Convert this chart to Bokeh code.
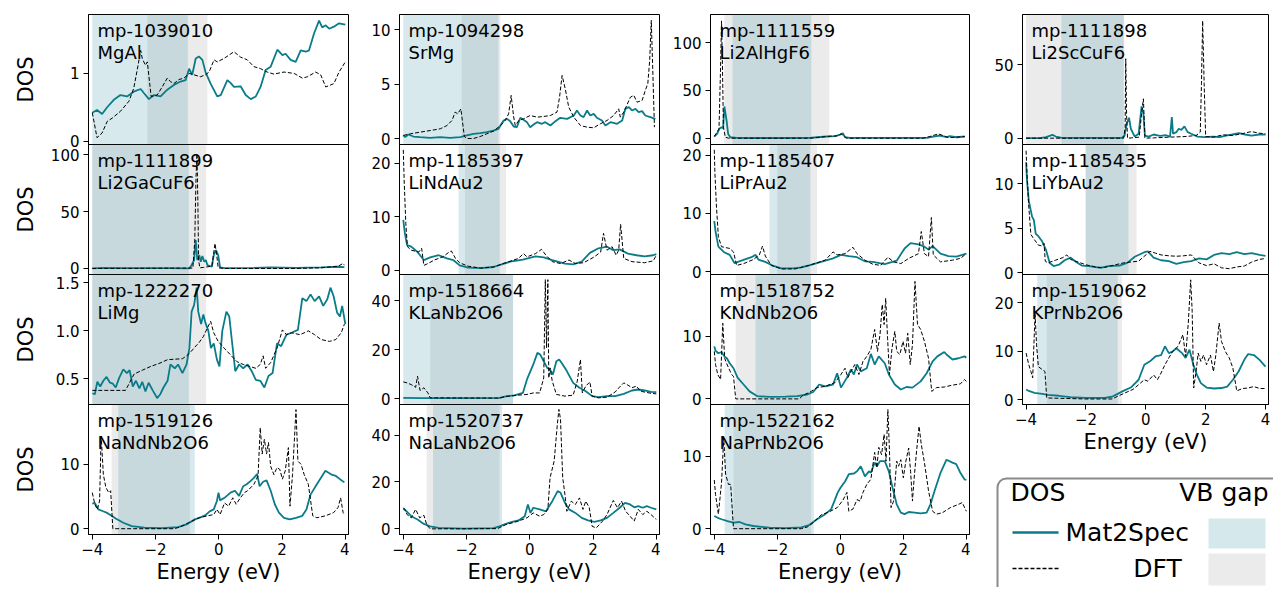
from bokeh.plotting import figure
from bokeh.layouts import row, column
from bokeh.models import Range1d, FixedTicker, BoxAnnotation, Label
from bokeh.embed import file_html
from bokeh.resources import INLINE

FONT = "DejaVu Sans"
TEAL = "#0a7c89"

IDS = ["mp-1039010", "mp-1094298", "mp-1111559", "mp-1111898",
       "mp-1111899", "mp-1185397", "mp-1185407", "mp-1185435",
       "mp-1222270", "mp-1518664", "mp-1518752", "mp-1519062",
       "mp-1519126", "mp-1520737", "mp-1522162"]
FORMULAS = ["MgAl", "SrMg", "Li2AlHgF6", "Li2ScCuF6",
            "Li2GaCuF6", "LiNdAu2", "LiPrAu2", "LiYbAu2",
            "LiMg", "KLaNb2O6", "KNdNb2O6", "KPrNb2O6",
            "NaNdNb2O6", "NaLaNb2O6", "NaPrNb2O6"]

M2S_GAP_LO = [-4.0, -4.0, -3.42, -2.82, -4.0, -2.25, -2.25, -2.01, -4.0, -4.0, -2.69, -3.63, -3.18, -3.06, -3.67]
M2S_GAP_HI = [-0.98, -0.99, -0.92, -0.74, -0.95, -0.95, -0.95, -0.58, -0.95, -0.53, -0.93, -0.94, -0.76, -0.88, -0.84]
DFT_GAP_LO = [-2.26, -2.15, -3.68, -4.0, -4.0, -2.05, -2.0, -2.01, -4.0, -3.15, -3.32, -3.31, -3.39, -3.26, -3.39]
DFT_GAP_HI = [-0.36, -0.93, -0.35, -0.72, -0.40, -0.75, -0.74, -0.31, -0.40, -0.53, -0.93, -0.80, -0.915, -0.96, -0.93]

Y_MIN = [-0.05, -0.52, -6.6, -4.3, -5.3, -0.8, -0.46, -0.2, 0.233, -2.3, -0.9, -1.0, -0.9, -2.4, -0.8]
Y_MAX = [1.87, 11.4, 129.4, 84.1, 109.0, 23.5, 21.8, 14.4, 1.587, 50.6, 19.9, 25.8, 19.3, 53.0, 17.1]
Y_TICKS = [[0, 1], [0, 5, 10], [0, 50, 100], [0, 50], [0, 50, 100], [0, 10, 20], [0, 10, 20], [0, 5, 10],
           [0.5, 1.0, 1.5], [0, 20, 40], [0, 10], [0, 10, 20], [0, 10], [0, 20, 40], [0, 10]]
X_TICKS = [-4, -2, 0, 2, 4]
X_TICK_LABELS = ["\u22124", "\u22122", "0", "2", "4"]

# ---------------- panel 1: MgAl
P01_M2S_E = [-4.00, -3.85, -3.69, -3.53, -3.32, -3.11, -2.90, -2.69, -2.47, -2.37, -2.21, -2.05, -1.84, -1.63, -1.42, -1.21, -1.05, -0.94, -0.84, -0.73, -0.63, -0.52, -0.42, -0.26, -0.05, 0.06, 0.27, 0.37, 0.48, 0.69, 0.85, 1.01, 1.17, 1.32, 1.48, 1.64, 1.85, 2.01, 2.11, 2.27, 2.43, 2.59, 2.75, 2.85, 3.01, 3.17, 3.27, 3.38, 3.49, 3.64, 3.80, 4.00]
P01_M2S = [0.42, 0.46, 0.40, 0.50, 0.61, 0.68, 0.66, 0.73, 0.77, 0.71, 0.62, 0.68, 0.66, 0.76, 0.83, 0.88, 0.90, 1.07, 0.98, 1.22, 1.25, 1.20, 1.02, 0.85, 0.66, 0.68, 0.90, 0.86, 0.80, 0.81, 0.68, 0.62, 0.66, 0.80, 1.05, 1.10, 1.35, 1.27, 1.29, 1.20, 1.17, 1.34, 1.32, 1.34, 1.59, 1.78, 1.68, 1.71, 1.66, 1.69, 1.74, 1.72]
P01_DFT_E = [-4.00, -3.85, -3.69, -3.53, -3.37, -3.11, -2.84, -2.69, -2.58, -2.47, -2.42, -2.32, -2.26, -2.14, -1.95, -1.79, -1.63, -1.53, -1.42, -1.26, -1.10, -0.94, -0.79, -0.58, -0.42, -0.31, -0.15, -0.05, 0.16, 0.48, 0.69, 0.90, 1.11, 1.32, 1.53, 1.74, 2.06, 2.38, 2.64, 2.80, 3.06, 3.22, 3.38, 3.54, 3.64, 3.80, 4.00]
P01_DFT = [0.42, 0.05, 0.12, 0.29, 0.34, 0.44, 0.59, 0.78, 1.05, 1.34, 1.22, 1.12, 1.17, 0.66, 0.68, 0.80, 0.93, 0.88, 0.85, 0.91, 0.93, 1.00, 0.98, 0.95, 0.98, 1.02, 1.20, 1.17, 1.22, 1.32, 1.24, 1.20, 1.10, 1.07, 1.02, 0.99, 1.02, 1.00, 0.93, 0.95, 1.02, 0.98, 0.80, 0.83, 0.85, 1.02, 1.17]

# ---------------- panel 2: SrMg
P02_M2S_E = [-4.00, -3.94, -3.84, -3.68, -3.47, -3.15, -2.83, -2.52, -2.20, -1.99, -1.78, -1.57, -1.36, -1.15, -0.99, -0.83, -0.72, -0.62, -0.51, -0.41, -0.30, -0.20, -0.09, 0.01, 0.12, 0.23, 0.38, 0.49, 0.65, 0.81, 0.96, 1.18, 1.39, 1.49, 1.60, 1.70, 1.81, 1.91, 2.02, 2.12, 2.28, 2.39, 2.55, 2.76, 2.92, 3.02, 3.13, 3.23, 3.34, 3.44, 3.55, 3.65, 3.81, 3.97]
P02_M2S = [0.31, 0.15, 0.40, 0.21, 0.15, 0.09, 0.15, 0.09, 0.15, 0.31, 0.46, 0.52, 0.61, 0.76, 0.92, 1.68, 1.83, 1.62, 1.13, 1.07, 1.93, 1.74, 1.53, 1.07, 1.31, 1.53, 1.38, 1.53, 1.22, 1.62, 1.93, 1.83, 2.14, 2.60, 2.14, 1.99, 2.60, 2.14, 2.29, 1.93, 1.68, 1.22, 1.53, 1.38, 1.68, 2.75, 2.91, 2.60, 2.75, 2.45, 2.54, 2.14, 1.99, 1.83]
P02_DFT_E = [-4.00, -3.78, -3.47, -3.15, -2.83, -2.62, -2.46, -2.36, -2.28, -2.18, -2.07, -1.99, -1.78, -1.57, -1.36, -1.15, -0.93, -0.78, -0.67, -0.59, -0.51, -0.46, -0.35, -0.20, 0.01, 0.23, 0.44, 0.65, 0.86, 0.94, 1.02, 1.12, 1.23, 1.39, 1.60, 1.81, 2.02, 2.23, 2.44, 2.65, 2.81, 2.86, 2.97, 3.18, 3.29, 3.39, 3.55, 3.65, 3.73, 3.79, 3.84, 3.90, 3.94]
P02_DFT = [0.31, 0.46, 0.61, 0.76, 0.92, 1.22, 1.68, 2.45, 2.29, 2.75, 0.21, 0.03, 0.03, 0.21, 0.46, 0.70, 1.22, 1.68, 2.29, 3.98, 1.99, 1.22, 1.68, 1.83, 2.14, 1.99, 2.05, 2.14, 2.45, 3.82, 5.81, 4.59, 2.91, 1.99, 1.22, 1.07, 1.01, 1.38, 1.68, 2.14, 2.75, 1.99, 2.45, 3.82, 3.98, 3.36, 3.52, 4.43, 5.05, 7.19, 10.86, 5.05, 1.07]

# ---------------- panel 3: Li2AlHgF6
P03_M2S_E = [-4.00, -3.91, -3.84, -3.77, -3.72, -3.68, -3.61, -3.56, -3.49, -3.28, -2.85, -1.80, -0.96, -0.74, -0.43, -0.16, 0.00, 0.08, 0.15, 0.31, 1.37, 2.74, 2.95, 3.16, 3.37, 3.47, 3.69, 3.95]
P03_M2S = [1.75, 4.5, 9.8, 11.5, 10.5, 33.2, 18.5, 4.5, 1.0, 0.35, 0.2, 0.2, 0.35, 1.0, 1.75, 2.1, 3.8, 5.2, 1.0, 0.35, 0.3, 0.35, 1.75, 2.8, 1.0, 2.1, 1.0, 1.75]
P03_DFT_E = [-4.00, -3.85, -3.80, -3.77, -3.74, -3.71, -3.65, -3.54, -0.96, -0.74, -0.32, -0.11, 0.02, 0.10, 0.20, 2.63, 2.84, 3.11, 3.26, 3.42, 3.58, 3.79, 3.95]
P03_DFT = [1.75, 9.8, 74.5, 122.7, 74.5, 11.5, 1.0, 0.0, 0.0, 0.7, 2.1, 2.4, 4.5, 2.8, 0.0, 0.0, 1.75, 4.5, 2.8, 0.7, 0.7, 1.4, 1.75]

# ---------------- panel 4: Li2ScCuF6
P04_M2S_E = [-4.00, -3.54, -3.33, -3.12, -3.01, -2.80, -0.80, -0.71, -0.64, -0.56, -0.50, -0.37, -0.24, -0.14, -0.08, -0.03, 0.10, 0.26, 0.47, 0.68, 0.81, 0.87, 0.91, 1.02, 1.10, 1.19, 1.29, 1.40, 1.52, 1.73, 1.95, 2.26, 2.47, 2.68, 2.89, 3.11, 3.32, 3.53, 3.79, 4.00]
P04_M2S = [0.0, 0.0, 0.7, 2.3, 1.1, 0.2, 0.2, 1.8, 9.8, 13.9, 6.4, 1.1, 3.0, 21.6, 16.6, 1.8, 1.1, 2.5, 1.6, 2.0, 1.1, 14.3, 3.0, 4.1, 6.4, 5.7, 8.0, 4.1, 3.0, 1.1, 0.7, 1.1, 0.7, 1.8, 2.5, 3.4, 2.5, 1.8, 2.5, 2.4]
P04_DFT_E = [-4.00, -0.74, -0.69, -0.67, -0.64, -0.61, -0.48, -0.22, -0.13, -0.08, -0.03, 0.26, 0.79, 1.31, 1.68, 1.82, 1.86, 1.90, 1.95, 2.00, 2.26, 2.58, 2.89, 3.21, 3.53, 3.79, 4.00]
P04_DFT = [0.0, 0.0, 7.5, 54.0, 14.3, 0.0, 0.2, 0.7, 18.9, 26.8, 0.0, 0.2, 0.7, 1.1, 1.8, 4.1, 37.0, 79.8, 37.0, 1.1, 0.7, 2.3, 1.8, 3.0, 4.5, 3.4, 3.0]

# ---------------- panel 5: Li2GaCuF6
P05_M2S_E = [-4.00, -3.68, -2.88, -1.55, -0.95, -0.89, -0.78, -0.73, -0.68, -0.62, -0.57, -0.52, -0.46, -0.41, -0.36, -0.22, -0.16, -0.09, -0.02, 0.04, 0.18, 1.11, 1.64, 2.44, 3.23, 3.77, 3.97]
P05_M2S = [0.0, 0.6, 0.3, 0.3, 0.0, 1.5, 7.4, 25.0, 7.4, 11.8, 5.9, 10.9, 5.9, 7.4, 2.9, 1.5, 11.8, 16.2, 11.8, 0.9, 0.3, 0.6, 0.9, 0.6, 0.9, 1.5, 1.2]
P05_DFT_E = [-4.00, -0.82, -0.76, -0.72, -0.69, -0.66, -0.64, -0.60, -0.49, -0.22, -0.12, -0.06, -0.02, 0.18, 2.44, 3.23, 3.77, 3.93, 3.97]
P05_DFT = [0.0, 0.3, 25.0, 81.0, 101.0, 54.0, 7.4, 0.6, 0.9, 2.0, 22.0, 10.3, 0.6, 0.0, 0.0, 0.6, 2.0, 4.4, 2.9]

# ---------------- panel 6: LiNdAu2
P06_M2S_E = [-4.00, -3.95, -3.88, -3.75, -3.55, -3.35, -3.15, -2.88, -2.75, -2.62, -2.42, -2.22, -1.95, -1.55, -1.15, -0.89, -0.62, -0.22, 0.18, 0.44, 0.71, 1.11, 1.37, 1.64, 1.90, 2.17, 2.44, 2.64, 2.84, 3.10, 3.37, 3.63, 3.90, 4.00]
P06_M2S = [9.4, 6.9, 4.7, 4.4, 3.4, 1.9, 2.4, 2.8, 2.5, 2.2, 1.9, 0.9, 0.5, 0.4, 0.6, 1.1, 1.6, 2.0, 2.6, 2.4, 1.9, 1.25, 1.1, 1.6, 3.25, 4.1, 4.4, 3.75, 3.9, 3.1, 2.8, 2.6, 2.8, 3.0]
P06_DFT_E = [-4.00, -3.97, -3.92, -3.87, -3.75, -3.51, -3.42, -3.35, -3.22, -3.02, -2.75, -2.55, -2.48, -2.35, -2.22, -1.95, -1.55, -1.15, -0.76, -0.36, -0.20, -0.09, 0.18, 0.37, 0.51, 0.71, 0.97, 1.24, 1.44, 1.70, 2.04, 2.24, 2.33, 2.44, 2.60, 2.73, 2.81, 2.87, 2.97, 3.23, 3.63, 3.90, 4.00]
P06_DFT = [22.5, 16.3, 8.75, 4.4, 3.75, 3.4, 4.1, 0.9, 1.25, 1.9, 2.5, 3.4, 3.6, 2.2, 1.4, 0.75, 0.4, 0.6, 1.4, 2.2, 3.1, 2.5, 3.1, 3.9, 2.8, 1.6, 1.25, 1.9, 1.25, 1.4, 2.5, 3.4, 6.9, 3.75, 4.4, 2.8, 3.75, 8.6, 2.2, 1.6, 1.4, 1.75, 2.8]

# ---------------- panel 7: LiPrAu2
P07_M2S_E = [-4.00, -3.96, -3.87, -3.70, -3.51, -3.36, -3.14, -2.82, -2.69, -2.60, -2.38, -2.12, -1.87, -1.49, -1.24, -0.99, -0.61, -0.23, 0.02, 0.27, 0.53, 0.78, 1.03, 1.41, 1.79, 2.04, 2.23, 2.48, 2.67, 2.80, 2.93, 3.18, 3.43, 3.68, 3.87, 4.00]
P07_M2S = [8.7, 6.9, 4.3, 3.4, 2.9, 1.5, 1.9, 2.5, 2.9, 2.1, 1.7, 1.0, 0.6, 0.6, 0.75, 1.1, 1.7, 2.3, 2.9, 2.7, 2.5, 1.8, 1.7, 1.3, 1.9, 4.0, 4.9, 4.7, 4.3, 3.8, 4.4, 3.1, 2.7, 2.6, 2.9, 3.1]
P07_DFT_E = [-4.00, -3.98, -3.93, -3.87, -3.77, -3.51, -3.39, -3.29, -3.07, -2.76, -2.57, -2.47, -2.38, -2.19, -1.87, -1.43, -0.99, -0.48, -0.23, -0.10, 0.15, 0.40, 0.53, 0.78, 1.03, 1.28, 1.51, 1.69, 1.92, 2.17, 2.48, 2.57, 2.67, 2.80, 2.89, 2.95, 3.18, 3.56, 3.81, 4.00]
P07_DFT = [20.9, 16.9, 11.1, 6.0, 4.3, 4.0, 3.4, 1.1, 1.4, 2.1, 2.9, 4.4, 2.7, 1.1, 0.5, 0.5, 1.1, 2.0, 3.4, 2.9, 3.1, 4.2, 3.1, 2.0, 1.3, 1.1, 2.5, 1.7, 1.4, 2.3, 3.1, 6.9, 3.1, 2.6, 9.3, 2.9, 1.7, 2.0, 2.3, 3.1]

# ---------------- panel 8: LiYbAu2
P08_M2S_E = [-4.00, -3.97, -3.91, -3.80, -3.74, -3.68, -3.59, -3.46, -3.34, -3.21, -3.08, -2.90, -2.71, -2.52, -2.33, -2.14, -1.89, -1.51, -1.25, -0.88, -0.62, -0.37, -0.05, 0.07, 0.26, 0.51, 0.77, 1.02, 1.27, 1.52, 1.78, 2.03, 2.28, 2.53, 2.79, 3.04, 3.29, 3.54, 3.80, 4.00]
P08_M2S = [12.4, 10.4, 8.1, 6.3, 5.9, 4.4, 4.1, 3.5, 2.6, 1.1, 0.75, 0.9, 1.4, 1.7, 1.2, 0.8, 0.75, 0.55, 0.75, 0.8, 1.1, 1.8, 2.3, 2.4, 1.7, 1.4, 1.3, 1.0, 1.2, 1.3, 1.6, 1.5, 2.0, 2.2, 2.1, 2.3, 2.1, 2.2, 2.0, 1.9]
P08_DFT_E = [-4.00, -3.97, -3.91, -3.84, -3.72, -3.59, -3.46, -3.40, -3.36, -3.27, -3.02, -2.77, -2.64, -2.52, -2.26, -2.01, -1.63, -1.38, -1.13, -0.75, -0.50, -0.24, 0.14, 0.32, 0.51, 0.77, 1.02, 1.27, 1.52, 1.78, 2.03, 2.28, 2.53, 2.79, 3.04, 3.29, 3.54, 3.80, 4.00]
P08_DFT = [13.7, 11.1, 7.4, 4.3, 3.7, 3.1, 3.0, 3.3, 1.3, 1.1, 1.4, 1.7, 2.0, 1.5, 1.2, 0.9, 0.6, 0.6, 0.8, 1.1, 1.2, 1.3, 2.4, 2.2, 2.0, 1.9, 1.85, 1.9, 2.0, 1.1, 0.8, 1.0, 0.55, 0.45, 0.65, 0.75, 1.2, 1.5, 1.6]

# ---------------- panel 9: LiMg
P09_M2S_E = [-4.00, -3.92, -3.84, -3.75, -3.65, -3.55, -3.44, -3.35, -3.26, -3.15, -3.02, -2.91, -2.82, -2.72, -2.62, -2.51, -2.42, -2.32, -2.22, -2.09, -1.95, -1.85, -1.75, -1.62, -1.53, -1.39, -1.29, -1.15, -1.02, -0.93, -0.86, -0.78, -0.70, -0.65, -0.56, -0.49, -0.42, -0.33, -0.25, -0.16, -0.06, 0.02, 0.11, 0.24, 0.33, 0.41, 0.52, 0.64, 0.77, 0.91, 1.04, 1.17, 1.31, 1.44, 1.57, 1.70, 1.84, 1.97, 2.14, 2.30, 2.50, 2.64, 2.77, 2.90, 3.03, 3.17, 3.30, 3.43, 3.53, 3.63, 3.74, 3.83, 3.90, 4.00]
P09_M2S = [0.35, 0.34, 0.47, 0.42, 0.48, 0.52, 0.46, 0.45, 0.41, 0.51, 0.60, 0.56, 0.59, 0.42, 0.48, 0.40, 0.47, 0.37, 0.46, 0.38, 0.30, 0.34, 0.41, 0.48, 0.65, 0.61, 0.65, 0.56, 0.65, 0.82, 1.20, 1.27, 1.45, 1.20, 1.07, 1.17, 1.08, 1.00, 0.82, 0.87, 0.70, 0.63, 1.00, 1.20, 1.15, 0.91, 0.58, 0.65, 0.61, 0.65, 0.58, 0.49, 0.48, 0.41, 0.53, 0.56, 0.87, 0.84, 0.96, 0.98, 1.01, 1.34, 1.31, 1.38, 1.31, 1.36, 1.26, 1.33, 1.45, 1.36, 1.19, 1.15, 1.26, 1.07]
P09_DFT_E = [-4.00, -2.95, -2.82, -2.68, -2.42, -2.15, -1.89, -1.62, -1.15, -1.02, -0.89, -0.76, -0.62, -0.49, -0.36, -0.26, -0.16, -0.02, 0.17, 0.37, 0.57, 0.77, 0.97, 1.17, 1.31, 1.40, 1.48, 1.64, 1.84, 2.01, 2.14, 2.30, 2.57, 2.83, 3.03, 3.23, 3.50, 3.70, 3.87, 3.97]
P09_DFT = [0.38, 0.38, 0.46, 0.55, 0.59, 0.63, 0.66, 0.70, 0.71, 0.74, 0.78, 0.83, 0.88, 0.94, 1.03, 1.10, 0.98, 0.89, 0.82, 0.75, 0.68, 0.65, 0.63, 0.61, 0.65, 0.74, 0.61, 0.67, 0.82, 1.01, 0.96, 0.98, 0.96, 1.00, 0.96, 0.91, 0.89, 0.91, 0.98, 1.07]

# ---------------- panel 10: KLaNb2O6
P10_M2S_E = [-4.00, -3.42, -2.09, -0.96, -0.76, -0.49, -0.22, -0.09, 0.11, 0.24, 0.33, 0.44, 0.55, 0.64, 0.73, 0.84, 0.93, 1.04, 1.17, 1.37, 1.57, 1.77, 1.97, 2.17, 2.44, 2.70, 2.97, 3.23, 3.43, 3.63, 3.83, 4.00]
P10_M2S = [0.4, 0.3, 0.3, 0.4, 1.0, 1.4, 2.4, 7.9, 14.0, 18.7, 18.0, 15.3, 12.6, 11.9, 9.9, 15.3, 16.0, 14.0, 11.3, 6.5, 4.5, 3.1, 1.1, 0.7, 1.1, 1.1, 2.0, 3.4, 3.8, 3.4, 2.8, 2.7]
P10_DFT_E = [-4.00, -3.88, -3.75, -3.61, -3.55, -3.47, -3.35, -3.22, -3.15, -0.96, -0.76, -0.36, -0.09, 0.11, 0.31, 0.44, 0.49, 0.53, 0.57, 0.60, 0.64, 0.71, 0.84, 1.11, 1.37, 1.50, 1.60, 1.66, 1.77, 1.90, 1.97, 2.17, 2.44, 2.70, 2.83, 2.97, 3.10, 3.23, 3.37, 3.50, 3.77, 4.00]
P10_DFT = [6.9, 6.5, 5.8, 4.7, 9.2, 3.4, 4.5, 2.4, 0.4, 0.3, 1.0, 1.5, 1.8, 2.4, 2.4, 8.5, 48.5, 20.7, 48.5, 8.5, 12.6, 7.2, 1.8, 1.1, 1.5, 7.2, 16.0, 2.4, 5.2, 6.9, 1.1, 0.4, 0.7, 2.8, 4.7, 6.5, 5.6, 4.5, 5.2, 3.1, 2.4, 2.0]

# ---------------- panel 11: KNdNb2O6
P11_M2S_E = [-4.00, -3.96, -3.87, -3.77, -3.68, -3.60, -3.51, -3.39, -3.26, -3.07, -2.88, -2.63, -2.25, -1.75, -1.37, -1.05, -0.86, -0.67, -0.48, -0.23, -0.10, 0.02, 0.21, 0.34, 0.43, 0.53, 0.65, 0.84, 0.97, 1.09, 1.22, 1.41, 1.54, 1.73, 1.92, 2.10, 2.29, 2.55, 2.74, 2.93, 3.08, 3.30, 3.37, 3.56, 3.75, 3.94, 4.00]
P11_M2S = [8.4, 7.7, 7.3, 7.5, 6.8, 6.5, 5.7, 4.9, 3.4, 2.3, 1.2, 0.43, 0.32, 0.37, 0.43, 0.7, 1.1, 2.3, 2.0, 2.3, 4.1, 1.8, 3.4, 4.7, 3.9, 5.5, 4.4, 4.9, 7.2, 5.5, 6.8, 5.7, 3.9, 2.3, 1.5, 1.9, 1.8, 2.8, 4.1, 6.0, 6.8, 7.5, 7.1, 6.3, 6.5, 6.8, 6.6]
P11_DFT_E = [-4.00, -3.96, -3.89, -3.80, -3.73, -3.67, -3.61, -3.54, -3.45, -3.39, -3.32, -1.30, -1.18, -0.99, -0.74, -0.48, -0.17, 0.02, 0.15, 0.24, 0.34, 0.46, 0.59, 0.72, 0.84, 0.97, 1.09, 1.18, 1.26, 1.33, 1.39, 1.44, 1.50, 1.56, 1.64, 1.73, 1.79, 1.89, 1.99, 2.07, 2.14, 2.22, 2.29, 2.37, 2.45, 2.55, 2.67, 2.80, 2.90, 3.05, 3.30, 3.56, 3.81, 3.94, 4.00]
P11_DFT = [7.6, 5.5, 3.9, 3.1, 12.1, 6.5, 5.7, 4.9, 3.9, 3.6, 0.0, 0.0, 0.6, 1.0, 1.8, 2.0, 2.6, 3.9, 4.9, 3.4, 4.4, 5.5, 3.9, 6.0, 6.8, 7.9, 11.1, 7.6, 10.3, 15.1, 11.9, 16.1, 9.7, 3.9, 8.1, 10.8, 7.6, 7.1, 9.2, 7.3, 10.5, 5.5, 8.7, 18.8, 11.9, 11.1, 9.2, 6.5, 1.2, 1.8, 1.9, 2.2, 2.4, 3.1, 2.8]

# ---------------- panel 12: KPrNb2O6
P12_M2S_E = [-4.00, -3.91, -3.72, -3.46, -3.27, -2.90, -2.52, -2.01, -1.38, -1.13, -0.94, -0.75, -0.50, -0.24, -0.05, 0.14, 0.32, 0.51, 0.64, 0.77, 0.89, 1.02, 1.21, 1.33, 1.46, 1.59, 1.71, 1.84, 2.03, 2.28, 2.53, 2.72, 2.91, 3.10, 3.29, 3.42, 3.61, 3.80, 4.00]
P12_M2S = [2.1, 1.8, 1.4, 1.2, 1.0, 0.8, 0.5, 0.35, 0.35, 0.6, 1.2, 1.8, 2.5, 4.1, 7.2, 7.9, 8.9, 9.2, 11.0, 9.6, 9.9, 10.6, 9.6, 8.6, 10.3, 7.2, 5.1, 3.4, 2.5, 2.3, 2.4, 2.7, 4.1, 5.8, 8.2, 9.4, 9.2, 8.2, 6.8]
P12_DFT_E = [-4.00, -3.91, -3.84, -3.78, -3.70, -3.65, -3.59, -3.46, -3.37, -3.31, -2.01, -1.13, -0.94, -0.69, -0.43, -0.18, -0.05, 0.07, 0.26, 0.39, 0.51, 0.64, 0.77, 0.89, 1.08, 1.24, 1.33, 1.42, 1.50, 1.55, 1.60, 1.68, 1.75, 1.84, 1.93, 2.03, 2.16, 2.26, 2.34, 2.45, 2.53, 2.66, 2.79, 2.91, 3.04, 3.23, 3.42, 3.61, 3.80, 4.00]
P12_DFT = [9.6, 7.2, 5.8, 4.5, 17.8, 11.3, 6.8, 6.2, 5.8, 0.35, 0.14, 0.14, 0.7, 1.4, 2.1, 3.4, 4.1, 3.8, 5.1, 4.1, 5.5, 7.2, 8.6, 9.9, 11.0, 13.4, 8.9, 15.8, 24.7, 18.2, 2.4, 5.8, 9.6, 7.9, 9.2, 7.2, 9.2, 5.8, 9.2, 15.8, 12.0, 9.9, 8.6, 6.5, 1.8, 2.3, 2.4, 2.7, 2.3, 2.3]

# ---------------- panel 13: NaNdNb2O6
P13_M2S_E = [-4.00, -3.92, -3.81, -3.68, -3.55, -3.39, -3.26, -3.02, -2.75, -2.35, -1.82, -1.29, -1.02, -0.76, -0.56, -0.42, -0.29, -0.16, -0.06, -0.01, 0.04, 0.18, 0.37, 0.51, 0.64, 0.77, 0.88, 1.00, 1.11, 1.21, 1.29, 1.40, 1.51, 1.64, 1.77, 1.90, 2.06, 2.24, 2.44, 2.64, 2.77, 2.90, 3.10, 3.37, 3.57, 3.70, 3.83, 3.97]
P13_M2S = [3.9, 4.0, 3.0, 2.75, 2.5, 2.0, 1.6, 0.93, 0.41, 0.16, 0.1, 0.26, 0.67, 1.45, 1.8, 2.1, 2.7, 3.0, 4.3, 5.6, 4.4, 4.8, 5.6, 5.9, 5.1, 6.6, 6.9, 7.4, 7.9, 8.5, 6.6, 7.3, 7.5, 5.9, 3.8, 2.5, 1.7, 1.45, 1.7, 2.0, 3.0, 5.3, 6.9, 9.0, 8.4, 8.2, 7.7, 7.2]
P13_DFT_E = [-4.00, -3.92, -3.84, -3.77, -3.72, -3.65, -3.57, -3.48, -3.42, -3.35, -1.42, -1.22, -0.96, -0.62, -0.36, -0.16, -0.06, 0.04, 0.18, 0.31, 0.44, 0.55, 0.68, 0.81, 0.91, 1.11, 1.24, 1.31, 1.37, 1.44, 1.51, 1.57, 1.64, 1.74, 1.84, 1.93, 2.01, 2.10, 2.20, 2.25, 2.33, 2.44, 2.50, 2.60, 2.70, 2.83, 2.97, 3.10, 3.37, 3.63, 3.77, 3.85, 3.93, 3.97]
P13_DFT = [5.6, 3.8, 3.0, 4.3, 14.4, 8.4, 6.4, 5.6, 5.9, 0.0, 0.0, 0.26, 0.93, 1.7, 2.0, 2.2, 3.0, 2.2, 4.0, 3.5, 4.8, 3.8, 4.8, 5.6, 5.9, 6.9, 8.2, 15.7, 11.6, 13.9, 11.6, 13.4, 9.7, 8.4, 9.5, 9.2, 7.7, 9.0, 12.6, 3.5, 8.4, 18.5, 10.5, 10.0, 8.4, 6.9, 2.0, 1.7, 2.0, 2.5, 3.3, 4.8, 2.5, 2.2]

# ---------------- panel 14: NaLaNb2O6
P14_M2S_E = [-4.00, -3.88, -3.75, -3.55, -3.35, -3.15, -2.88, -2.09, -1.15, -0.96, -0.76, -0.56, -0.36, -0.16, -0.06, 0.02, 0.11, 0.31, 0.51, 0.71, 0.88, 0.97, 1.11, 1.24, 1.44, 1.64, 1.84, 2.04, 2.24, 2.44, 2.64, 2.84, 3.01, 3.17, 3.30, 3.43, 3.57, 3.70, 3.83, 4.00]
P14_M2S = [8.7, 7.3, 5.4, 4.0, 2.1, 1.1, 0.43, 0.14, 0.3, 1.1, 2.1, 3.0, 3.6, 5.4, 10.4, 6.8, 9.0, 8.3, 7.5, 11.8, 16.1, 15.4, 11.1, 8.3, 6.8, 4.7, 3.6, 3.0, 3.6, 4.7, 6.8, 9.0, 11.1, 10.4, 9.2, 9.7, 9.0, 9.7, 9.0, 8.3]
P14_DFT_E = [-4.00, -3.95, -3.88, -3.75, -3.61, -3.48, -3.35, -3.26, -3.15, -1.02, -0.76, -0.36, -0.09, 0.11, 0.31, 0.44, 0.57, 0.64, 0.77, 0.87, 0.92, 0.97, 1.04, 1.11, 1.17, 1.31, 1.44, 1.57, 1.68, 1.77, 1.88, 1.97, 2.10, 2.30, 2.44, 2.64, 2.77, 2.90, 3.03, 3.17, 3.30, 3.43, 3.57, 3.70, 3.83, 4.00]
P14_DFT = [9.0, 8.3, 6.1, 4.7, 8.3, 4.7, 5.8, 1.8, 0.0, 0.1, 1.8, 3.3, 4.7, 6.8, 5.4, 6.1, 8.3, 21.8, 28.9, 44.5, 50.9, 46.7, 21.8, 14.7, 7.5, 11.8, 10.4, 13.2, 8.3, 11.8, 9.0, 1.1, 0.4, 3.3, 6.1, 12.1, 9.0, 11.8, 7.5, 5.4, 3.3, 8.3, 6.1, 7.5, 6.1, 4.0]

# ---------------- panel 15: NaPrNb2O6
P15_M2S_E = [-4.00, -3.89, -3.77, -3.58, -3.39, -3.20, -3.01, -2.76, -2.25, -1.75, -1.24, -0.99, -0.74, -0.48, -0.29, -0.17, -0.08, 0.00, 0.08, 0.15, 0.27, 0.43, 0.53, 0.65, 0.78, 0.91, 0.97, 1.09, 1.16, 1.26, 1.41, 1.54, 1.66, 1.79, 1.92, 2.04, 2.17, 2.36, 2.55, 2.74, 2.86, 2.99, 3.18, 3.37, 3.56, 3.68, 3.81, 3.94, 4.00]
P15_M2S = [1.75, 1.5, 1.3, 1.05, 0.83, 0.92, 0.6, 0.37, 0.14, 0.09, 0.18, 0.5, 1.3, 2.0, 2.7, 4.0, 5.0, 5.6, 6.1, 6.5, 7.5, 7.6, 7.9, 8.6, 7.2, 7.9, 7.7, 9.1, 8.6, 9.3, 9.3, 7.9, 5.6, 3.35, 2.2, 2.0, 2.3, 2.2, 2.1, 2.2, 3.35, 5.2, 7.7, 9.5, 9.1, 8.9, 7.7, 6.8, 6.7]
P15_DFT_E = [-4.00, -3.96, -3.87, -3.77, -3.70, -3.64, -3.55, -3.48, -3.39, -1.24, -1.05, -0.86, -0.61, -0.36, -0.10, 0.08, 0.21, 0.27, 0.40, 0.53, 0.63, 0.72, 0.84, 0.97, 1.09, 1.16, 1.22, 1.31, 1.39, 1.45, 1.51, 1.56, 1.61, 1.69, 1.79, 1.85, 1.92, 2.00, 2.08, 2.17, 2.23, 2.29, 2.34, 2.42, 2.50, 2.57, 2.67, 2.80, 2.93, 3.05, 3.24, 3.49, 3.75, 3.87, 4.00]
P15_DFT = [6.7, 4.7, 2.0, 6.3, 12.5, 7.5, 6.1, 6.1, 0.0, 0.0, 0.23, 0.83, 1.9, 2.3, 2.9, 3.9, 5.0, 2.4, 2.7, 4.0, 3.8, 5.0, 6.1, 6.8, 10.5, 8.4, 11.2, 10.2, 13.0, 9.3, 16.4, 10.7, 2.9, 3.8, 9.3, 8.6, 9.5, 7.0, 9.3, 11.1, 7.9, 3.8, 6.8, 10.7, 14.1, 11.6, 9.1, 5.2, 2.4, 2.0, 2.2, 2.9, 3.35, 3.6, 2.4]

M2S_E = [P01_M2S_E, P02_M2S_E, P03_M2S_E, P04_M2S_E, P05_M2S_E, P06_M2S_E, P07_M2S_E, P08_M2S_E,
         P09_M2S_E, P10_M2S_E, P11_M2S_E, P12_M2S_E, P13_M2S_E, P14_M2S_E, P15_M2S_E]
M2S = [P01_M2S, P02_M2S, P03_M2S, P04_M2S, P05_M2S, P06_M2S, P07_M2S, P08_M2S,
       P09_M2S, P10_M2S, P11_M2S, P12_M2S, P13_M2S, P14_M2S, P15_M2S]
DFT_E = [P01_DFT_E, P02_DFT_E, P03_DFT_E, P04_DFT_E, P05_DFT_E, P06_DFT_E, P07_DFT_E, P08_DFT_E,
         P09_DFT_E, P10_DFT_E, P11_DFT_E, P12_DFT_E, P13_DFT_E, P14_DFT_E, P15_DFT_E]
DFT = [P01_DFT, P02_DFT, P03_DFT, P04_DFT, P05_DFT, P06_DFT, P07_DFT, P08_DFT,
       P09_DFT, P10_DFT, P11_DFT, P12_DFT, P13_DFT, P14_DFT, P15_DFT]

# ---------------- layout (pixels)
COL_LEFT = [88, 50, 50, 52]
COL_FRAME = [260, 260, 259, 246]
COL_RIGHT = [1, 1, 1, 5]
TOP0 = 14          # space above first row
FRAME_H = 130
PAD = 10           # transparent overlap band between stacked panels
XLAB_H = 53


def fmt_ticks(ticks):
    frac = any(float(v) != int(v) for v in ticks)
    return [("%.1f" % t) if frac else str(int(t)) for t in ticks]


def panel(i, r, c, has_xaxis):
    top = TOP0 if r == 0 else PAD
    bottom = XLAB_H if has_xaxis else PAD
    p = figure(frame_width=COL_FRAME[c], frame_height=FRAME_H,
               x_range=Range1d(-4.12, 4.1), y_range=Range1d(Y_MIN[i], Y_MAX[i]),
               output_backend="svg", toolbar_location=None,
               x_axis_location="below" if has_xaxis else None,
               min_border_left=COL_LEFT[c], min_border_right=COL_RIGHT[c],
               min_border_top=top, min_border_bottom=bottom,
               outline_line_color="black", outline_line_width=1,
               background_fill_color="white", border_fill_color=None,
               margin=(0 if r == 0 else -2 * PAD, 0, 0, 0))
    p.grid.visible = False
    # VB-gap shading
    p.add_layout(BoxAnnotation(left=DFT_GAP_LO[i], right=DFT_GAP_HI[i], fill_color="#808080",
                               fill_alpha=0.16, line_color=None, level="underlay"))
    p.add_layout(BoxAnnotation(left=M2S_GAP_LO[i], right=M2S_GAP_HI[i], fill_color="#3791a5",
                               fill_alpha=0.2, line_color=None, level="underlay"))
    p.line(M2S_E[i], M2S[i], line_color=TEAL, line_width=1.8)
    p.line(DFT_E[i], DFT[i], line_color="black", line_width=1.0, line_dash="4 2")
    p.add_layout(Label(x=-4.12, y=Y_MAX[i], x_offset=9, y_offset=-5,
                       text=f"{IDS[i]}\n{FORMULAS[i]}", text_baseline="top",
                       text_font=FONT, text_font_size="18px", text_color="black",
                       text_line_height=1.05))
    ya = p.yaxis[0]
    labels = fmt_ticks(Y_TICKS[i])
    ya.ticker = FixedTicker(ticks=Y_TICKS[i])
    ya.major_label_overrides = {t: l for t, l in zip(Y_TICKS[i], labels)}
    ya.minor_tick_line_color = None
    ya.major_tick_in = 0
    ya.major_tick_out = 5
    ya.major_label_standoff = 4
    ya.major_label_text_font = FONT
    ya.major_label_text_font_size = "15px"
    ya.major_label_text_color = "black"
    ya.axis_line_color = "black"
    ya.major_tick_line_color = "black"
    if c == 0:
        ya.axis_label = "DOS"
        ya.axis_label_text_font = FONT
        ya.axis_label_text_font_size = "21px"
        ya.axis_label_text_font_style = "normal"
        ya.axis_label_text_color = "black"
        w = max(sum(0.318 if ch == "." else 0.636 for ch in s) for s in labels) * 15
        ya.axis_label_standoff = int(max(2, 39 - w))
    if has_xaxis:
        xa = p.xaxis[0]
        xa.ticker = FixedTicker(ticks=X_TICKS)
        xa.major_label_overrides = {t: l for t, l in zip(X_TICKS, X_TICK_LABELS)}
        xa.minor_tick_line_color = None
        xa.major_tick_in = 0
        xa.major_tick_out = 5
        xa.major_label_standoff = 3
        xa.major_label_text_font = FONT
        xa.major_label_text_font_size = "15px"
        xa.major_label_text_color = "black"
        xa.axis_line_color = "black"
        xa.major_tick_line_color = "black"
        xa.axis_label = "Energy (eV)"
        xa.axis_label_text_font = FONT
        xa.axis_label_text_font_size = "21px"
        xa.axis_label_text_font_style = "normal"
        xa.axis_label_text_color = "black"
        xa.axis_label_standoff = 2
    return p


def legend_fig():
    W = COL_LEFT[3] + COL_FRAME[3] + COL_RIGHT[3]
    H = 130
    lg = figure(width=W, height=H, x_range=Range1d(0, W), y_range=Range1d(H, 0),
                x_axis_location=None, y_axis_location=None, toolbar_location=None,
                output_backend="svg", min_border_left=0, min_border_right=0,
                min_border_top=0, min_border_bottom=0, outline_line_color=None,
                background_fill_color=None, border_fill_color=None, frame_align=False)
    lg.grid.visible = False
    lg.add_layout(BoxAnnotation(left=27, right=W + 60, top=21, bottom=H + 60, fill_color="white",
                                fill_alpha=1.0, line_color="#8a8a8a", line_alpha=1.0, line_width=2,
                                border_radius=9, level="underlay"))
    txt = dict(text_font=FONT, text_font_size="25px", text_color="black", text_baseline="middle")
    lg.add_layout(Label(x=40, y=35, text="DOS", **txt))
    lg.add_layout(Label(x=298, y=35, text="VB gap", text_align="right", **txt))
    lg.add_layout(Label(x=95, y=75, text="Mat2Spec", **txt))
    lg.add_layout(Label(x=187, y=111, text="DFT", text_align="center", **txt))
    lg.line([42, 88], [75, 75], line_color=TEAL, line_width=2.5)
    lg.line([42, 88], [111, 111], line_color="black", line_width=1.3, line_dash="4 2")
    lg.quad(left=[238], right=[295], top=[61], bottom=[91], fill_color="#d5e9ed", line_color=None)
    lg.quad(left=[238], right=[295], top=[96], bottom=[128], fill_color="#ebebeb", line_color=None)
    return lg


cols = []
for c in range(4):
    figs = []
    for r in range(4):
        i = r * 4 + c
        if i >= len(IDS):
            figs.append(legend_fig())
            continue
        has_x = (r == 3) or (c == 3 and r == 2)
        figs.append(panel(i, r, c, has_x))
    cols.append(column(*figs, spacing=0))

layout = row(*cols, spacing=0)

open("out.html", "w").write(file_html(layout, INLINE, "DOS comparison"))
